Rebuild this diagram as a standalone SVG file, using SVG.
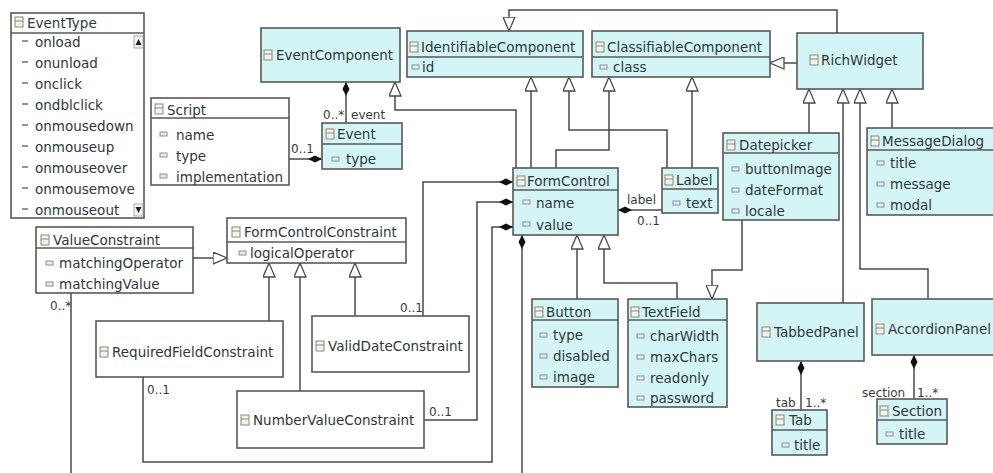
<svg xmlns="http://www.w3.org/2000/svg" xmlns:xlink="http://www.w3.org/1999/xlink" width="993" height="473" viewBox="0 0 993 473">
<style>
.box{stroke:#585858;stroke-width:1.6}
.cy{fill:#d3f5f5}
.wh{fill:#ffffff}
.sep{stroke:#585858;stroke-width:1.4}
.t{font-family:"DejaVu Sans",sans-serif;font-size:13.5px;fill:#2e3838}
.l{font-family:"DejaVu Sans",sans-serif;font-size:12px;fill:#3a3a3a}
.c{fill:none;stroke:#4a4a4a;stroke-width:1.5}
.gen{marker-end:url(#tri)}
.comp{marker-start:url(#dia)}
</style>
<defs>
<marker id="tri" markerUnits="userSpaceOnUse" viewBox="0 0 15 13" refX="14.5" refY="6.5" markerWidth="15" markerHeight="13" orient="auto">
<path d="M0.5,0.5 L14.5,6.5 L0.5,12.5 Z" fill="#ffffff" stroke="#4a4a4a" stroke-width="1.3"/>
</marker>
<marker id="dia" markerUnits="userSpaceOnUse" viewBox="0 0 14 8" refX="0" refY="4" markerWidth="14" markerHeight="8" orient="auto">
<path d="M0,4 L7,0.5 L14,4 L7,7.5 Z" fill="#111"/>
</marker>
<g id="ci"><rect x="0" y="-10" width="8" height="10" fill="#f2f2e8" stroke="#8a8a80" stroke-width="1"/><line x1="0" y1="-6" x2="8" y2="-6" stroke="#8a8a80" stroke-width="1"/></g>
<g id="ai"><rect x="0" y="-7" width="7" height="4" fill="#e8ecf2" stroke="#8890a0" stroke-width="1"/></g>
<g id="ei"><line x1="0" y1="-5" x2="6" y2="-5" stroke="#666" stroke-width="1.4"/></g>
</defs>
<rect width="993" height="473" fill="#ffffff"/>

<g id="connectors">
<path class="c gen" d="M837,33 V10 H509 V31"/>
<path class="c gen" d="M797,63 H770"/>
<path class="c gen" d="M692,168 V77"/>
<path class="c gen" d="M667,168 V130 H569 V77"/>
<path class="c gen" d="M531,168 V77"/>
<path class="c gen" d="M556,168 V150 H609 V77"/>
<path class="c gen" d="M516,168 V110 H395 V82"/>
<path class="c gen" d="M809,133 V89"/>
<path class="c gen" d="M843,303 V89"/>
<path class="c gen" d="M928,299 V269 H860 V89"/>
<path class="c gen" d="M892,128 V89"/>
<path class="c gen" d="M742,220 V270 H712 V299"/>
<path class="c gen" d="M577,299 V235"/>
<path class="c gen" d="M677,299 V283 H604 V235"/>
<path class="c gen" d="M193,258 H227"/>
<path class="c gen" d="M269,321 V263"/>
<path class="c gen" d="M300,391 V263"/>
<path class="c gen" d="M355,316 V263"/>
<path class="c comp" d="M346,82 V123"/>
<path class="c comp" d="M322,159 H289"/>
<path class="c comp" d="M513,182 H423 V316"/>
<path class="c comp" d="M513,202 H477 V420 H424"/>
<path class="c comp" d="M513,227 H492 V462 H143 V377"/>
<path class="c comp" d="M522,235 V473"/>
<path class="c" d="M71,293 V473"/>
<path class="c comp" d="M618,210 H662"/>
<path class="c comp" d="M801,361 V410"/>
<path class="c comp" d="M914,355 V399"/>
<text class="l" x="323" y="119">0..*</text>
<text class="l" x="351" y="119">event</text>
<text class="l" x="291" y="153">0..1</text>
<text class="l" x="400" y="312">0..1</text>
<text class="l" x="429" y="416">0..1</text>
<text class="l" x="147" y="394">0..1</text>
<text class="l" x="50" y="310">0..*</text>
<text class="l" x="627" y="204">label</text>
<text class="l" x="637" y="225">0..1</text>
<text class="l" x="776" y="407">tab</text>
<text class="l" x="805" y="407">1..*</text>
<text class="l" x="862" y="397">section</text>
<text class="l" x="917" y="397">1..*</text>
</g>

<g id="EventType">
<rect class="box wh" x="11" y="13" width="133" height="205"/>
<line class="sep" x1="11" y1="33" x2="144" y2="33"/>
<use href="#ci" x="15" y="27"/>
<text class="t" x="27" y="28">EventType</text>
<use href="#ei" x="22" y="46"/><text class="t" x="35" y="47">onload</text>
<use href="#ei" x="22" y="67"/><text class="t" x="35" y="68">onunload</text>
<use href="#ei" x="22" y="88"/><text class="t" x="35" y="89">onclick</text>
<use href="#ei" x="22" y="109"/><text class="t" x="35" y="110">ondblclick</text>
<use href="#ei" x="22" y="130"/><text class="t" x="35" y="131">onmousedown</text>
<use href="#ei" x="22" y="151"/><text class="t" x="35" y="152">onmouseup</text>
<use href="#ei" x="22" y="172"/><text class="t" x="35" y="173">onmouseover</text>
<use href="#ei" x="22" y="193"/><text class="t" x="35" y="194">onmousemove</text>
<use href="#ei" x="22" y="214"/><text class="t" x="35" y="215">onmouseout</text>
<rect x="134" y="36" width="9" height="12" fill="#f4f4f4" stroke="#999" stroke-width="0.8"/>
<path d="M135.5,45 L138.5,39 L141.5,45 Z" fill="#222"/>
<rect x="134" y="204" width="9" height="12" fill="#f4f4f4" stroke="#999" stroke-width="0.8"/>
<path d="M135.5,207 L138.5,213 L141.5,207 Z" fill="#222"/>
</g>

<g id="Script">
<rect class="box wh" x="151" y="98" width="138" height="87"/>
<line class="sep" x1="151" y1="118" x2="289" y2="118"/>
<use href="#ci" x="155" y="114"/>
<text class="t" x="167" y="115">Script</text>
<use href="#ai" x="160" y="139"/><text class="t" x="176" y="140">name</text>
<use href="#ai" x="160" y="160"/><text class="t" x="176" y="161">type</text>
<use href="#ai" x="160" y="181"/><text class="t" x="176" y="182">implementation</text>
</g>

<g id="EventComponent">
<rect class="box cy" x="261" y="28" width="139" height="54"/>
<use href="#ci" x="264" y="60"/>
<text class="t" x="276" y="60">EventComponent</text>
</g>

<g id="Event">
<rect class="box cy" x="322" y="123" width="80" height="46"/>
<line class="sep" x1="322" y1="144" x2="402" y2="144"/>
<use href="#ci" x="326" y="139"/>
<text class="t" x="337" y="139">Event</text>
<use href="#ai" x="332" y="164"/><text class="t" x="346" y="164">type</text>
</g>

<g id="IdentifiableComponent">
<rect class="box cy" x="407" y="31" width="176" height="46"/>
<line class="sep" x1="407" y1="57" x2="583" y2="57"/>
<use href="#ci" x="410" y="52"/>
<text class="t" x="421" y="52">IdentifiableComponent</text>
<use href="#ai" x="412" y="72"/><text class="t" x="422" y="72">id</text>
</g>

<g id="ClassifiableComponent">
<rect class="box cy" x="592" y="31" width="178" height="46"/>
<line class="sep" x1="592" y1="57" x2="770" y2="57"/>
<use href="#ci" x="596" y="52"/>
<text class="t" x="607" y="52">ClassifiableComponent</text>
<use href="#ai" x="600" y="72"/><text class="t" x="613" y="72">class</text>
</g>

<g id="RichWidget">
<rect class="box cy" x="797" y="33" width="126" height="56"/>
<use href="#ci" x="810" y="65"/>
<text class="t" x="821" y="65">RichWidget</text>
</g>

<g id="FormControl">
<rect class="box cy" x="513" y="168" width="105" height="67"/>
<line class="sep" x1="513" y1="190" x2="618" y2="190"/>
<use href="#ci" x="517" y="186"/>
<text class="t" x="527" y="186">FormControl</text>
<use href="#ai" x="523" y="207"/><text class="t" x="536" y="208">name</text>
<use href="#ai" x="523" y="229"/><text class="t" x="536" y="230">value</text>
</g>

<g id="Label">
<rect class="box cy" x="662" y="168" width="56" height="45"/>
<line class="sep" x1="662" y1="189" x2="718" y2="189"/>
<use href="#ci" x="665" y="185"/>
<text class="t" x="676" y="185">Label</text>
<use href="#ai" x="673" y="208"/><text class="t" x="686" y="208">text</text>
</g>

<g id="Datepicker">
<rect class="box cy" x="723" y="133" width="116" height="87"/>
<line class="sep" x1="723" y1="153" x2="839" y2="153"/>
<use href="#ci" x="727" y="150"/>
<text class="t" x="739" y="150">Datepicker</text>
<use href="#ai" x="732" y="174"/><text class="t" x="745" y="174">buttonImage</text>
<use href="#ai" x="732" y="195"/><text class="t" x="745" y="195">dateFormat</text>
<use href="#ai" x="732" y="216"/><text class="t" x="745" y="216">locale</text>
</g>

<g id="MessageDialog">
<rect class="box cy" x="867" y="128" width="130" height="87"/>
<line class="sep" x1="867" y1="150" x2="997" y2="150"/>
<use href="#ci" x="871" y="146"/>
<text class="t" x="882" y="146">MessageDialog</text>
<use href="#ai" x="877" y="168"/><text class="t" x="890" y="168">title</text>
<use href="#ai" x="877" y="189"/><text class="t" x="890" y="189">message</text>
<use href="#ai" x="877" y="210"/><text class="t" x="890" y="210">modal</text>
</g>

<g id="FormControlConstraint">
<rect class="box wh" x="227" y="218" width="179" height="45"/>
<line class="sep" x1="227" y1="242" x2="406" y2="242"/>
<use href="#ci" x="232" y="237"/>
<text class="t" x="244" y="237">FormControlConstraint</text>
<use href="#ai" x="239" y="258"/><text class="t" x="250" y="258">logicalOperator</text>
</g>

<g id="ValueConstraint">
<rect class="box wh" x="36" y="227" width="157" height="66"/>
<line class="sep" x1="36" y1="248" x2="193" y2="248"/>
<use href="#ci" x="41" y="245"/>
<text class="t" x="53" y="245">ValueConstraint</text>
<use href="#ai" x="46" y="268"/><text class="t" x="59" y="268">matchingOperator</text>
<use href="#ai" x="46" y="289"/><text class="t" x="59" y="289">matchingValue</text>
</g>

<g id="RequiredFieldConstraint">
<rect class="box wh" x="96" y="321" width="187" height="56"/>
<use href="#ci" x="100" y="357"/>
<text class="t" x="112" y="357">RequiredFieldConstraint</text>
</g>

<g id="ValidDateConstraint">
<rect class="box wh" x="312" y="316" width="157" height="56"/>
<use href="#ci" x="316" y="351"/>
<text class="t" x="328" y="351">ValidDateConstraint</text>
</g>

<g id="NumberValueConstraint">
<rect class="box wh" x="237" y="391" width="187" height="57"/>
<use href="#ci" x="241" y="425"/>
<text class="t" x="253" y="425">NumberValueConstraint</text>
</g>

<g id="Button">
<rect class="box cy" x="532" y="299" width="86" height="88"/>
<line class="sep" x1="532" y1="320" x2="618" y2="320"/>
<use href="#ci" x="535" y="317"/>
<text class="t" x="546" y="317">Button</text>
<use href="#ai" x="540" y="340"/><text class="t" x="553" y="340">type</text>
<use href="#ai" x="540" y="361"/><text class="t" x="553" y="361">disabled</text>
<use href="#ai" x="540" y="382"/><text class="t" x="553" y="382">image</text>
</g>

<g id="TextField">
<rect class="box cy" x="628" y="299" width="99" height="108"/>
<line class="sep" x1="628" y1="320" x2="727" y2="320"/>
<use href="#ci" x="631" y="317"/>
<text class="t" x="642" y="317">TextField</text>
<use href="#ai" x="637" y="341"/><text class="t" x="650" y="341">charWidth</text>
<use href="#ai" x="637" y="362"/><text class="t" x="650" y="362">maxChars</text>
<use href="#ai" x="637" y="383"/><text class="t" x="650" y="383">readonly</text>
<use href="#ai" x="637" y="403"/><text class="t" x="650" y="403">password</text>
</g>

<g id="TabbedPanel">
<rect class="box cy" x="757" y="303" width="107" height="58"/>
<use href="#ci" x="762" y="337"/>
<text class="t" x="774" y="337">TabbedPanel</text>
</g>

<g id="AccordionPanel">
<rect class="box cy" x="872" y="299" width="125" height="56"/>
<use href="#ci" x="876" y="334"/>
<text class="t" x="888" y="334">AccordionPanel</text>
</g>

<g id="Tab">
<rect class="box cy" x="772" y="410" width="55" height="45"/>
<line class="sep" x1="772" y1="430" x2="827" y2="430"/>
<use href="#ci" x="776" y="425"/>
<text class="t" x="789" y="425">Tab</text>
<use href="#ai" x="782" y="450"/><text class="t" x="794" y="450">title</text>
</g>

<g id="Section">
<rect class="box cy" x="877" y="399" width="70" height="45"/>
<line class="sep" x1="877" y1="420" x2="947" y2="420"/>
<use href="#ci" x="880" y="416"/>
<text class="t" x="892" y="416">Section</text>
<use href="#ai" x="886" y="439"/><text class="t" x="899" y="439">title</text>
</g>
</svg>
